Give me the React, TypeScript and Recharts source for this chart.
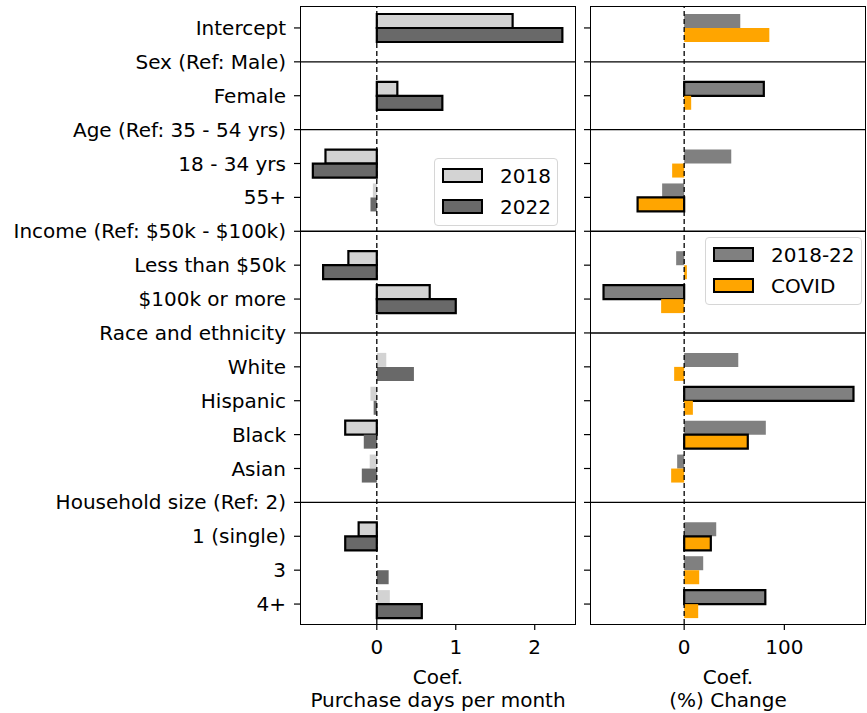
import React from 'react';
import { BarChart, Bar, XAxis, YAxis, Cell, ReferenceLine, Legend } from 'recharts';

const categories = [
  'Intercept',
  'Sex (Ref: Male)',
  'Female',
  'Age (Ref: 35 - 54 yrs)',
  '18 - 34 yrs',
  '55+',
  'Income (Ref: $50k - $100k)',
  'Less than $50k',
  '$100k or more',
  'Race and ethnicity',
  'White',
  'Hispanic',
  'Black',
  'Asian',
  'Household size (Ref: 2)',
  '1 (single)',
  '3',
  '4+',
];

const headerRows = [
  'Sex (Ref: Male)',
  'Age (Ref: 35 - 54 yrs)',
  'Income (Ref: $50k - $100k)',
  'Race and ethnicity',
  'Household size (Ref: 2)',
];

// purchase days per month coefficients
const coef2018 = [1.72, null, 0.26, null, -0.65, -0.05, null, -0.36, 0.67, null, 0.12, -0.08, -0.4, -0.09, null, -0.23, null, 0.165];
const coef2022 = [2.35, null, 0.83, null, -0.81, -0.08, null, -0.68, 1.0, null, 0.47, -0.04, -0.165, -0.19, null, -0.4, 0.15, 0.57];
const sig2018 = [1, 0, 1, 0, 1, 0, 0, 1, 1, 0, 0, 0, 1, 0, 0, 1, 0, 0];
const sig2022 = [1, 0, 1, 0, 1, 0, 0, 1, 1, 0, 0, 0, 0, 0, 0, 1, 0, 1];

// (%) change coefficients
const change1822 = [56, null, 79.5, null, 47, -22, null, -8, -80.5, null, 54, 169, 81.5, -7, null, 32, 19, 81];
const changeCovid = [85, null, 7, null, -12, -46.5, null, 2.7, -23, null, -10, 8.7, 63.5, -13, null, 26.6, 15, 14];
const sig1822 = [0, 0, 1, 0, 0, 0, 0, 0, 1, 0, 0, 1, 0, 0, 0, 0, 0, 1];
const sigCovid = [0, 0, 0, 0, 0, 1, 0, 0, 0, 0, 0, 0, 1, 0, 0, 1, 0, 0];

const leftTicks = [0, 1, 2];
const rightTicks = [0, 100];

const COLORS = {
  y2018: '#d3d3d3',
  y2022: '#696969',
  trend: '#808080',
  covid: '#ffa500',
};

const FONT = '"DejaVu Sans", sans-serif';
const FS = 20;

const leftData = categories.map((label, i) => ({ label, a: coef2018[i], b: coef2022[i] }));
const rightData = categories.map((label, i) => ({ label, a: change1822[i], b: changeCovid[i] }));

const axisLabel = (lines: string[]) => (props: any) => {
  const vb = props.viewBox;
  const cx = vb.x + vb.width / 2;
  return (
    <text x={cx} y={vb.y} textAnchor="middle" fontSize={FS} fill="#000" fontFamily={FONT}>
      <tspan x={cx} dy={60}>{lines[0]}</tspan>
      <tspan x={cx} dy={23}>{lines[1]}</tspan>
    </text>
  );
};

const legendBox = (items: { name: string; color: string }[], width: number) => () => (
  <div
    style={{
      width,
      height: 68,
      boxSizing: 'border-box',
      border: '1px solid #d6d6d6',
      borderRadius: 4,
      background: 'rgba(255,255,255,0.85)',
      padding: '8px 0 0 7px',
      fontFamily: FONT,
      fontSize: FS,
    }}
  >
    {items.map((it) => (
      <div key={it.name} style={{ display: 'flex', alignItems: 'center', height: 31 }}>
        <span
          style={{
            width: 41,
            height: 15,
            boxSizing: 'border-box',
            border: '2px solid #000',
            background: it.color,
            marginRight: 17,
            marginTop: -14,
          }}
        />
        <span style={{ marginTop: -14 }}>{it.name}</span>
      </div>
    ))}
  </div>
);

const PLOT_TOP = 7;
const PLOT_BOTTOM = 624;
const HEIGHT = 713;

function Frame({ left, width }: { left: number; width: number }) {
  return (
    <div
      style={{
        position: 'absolute',
        left: left - 0.6,
        top: PLOT_TOP - 0.6,
        width: width + 1.2,
        height: PLOT_BOTTOM - PLOT_TOP + 1.2,
        border: '1.3px solid #000',
        boxSizing: 'border-box',
        pointerEvents: 'none',
      }}
    />
  );
}

export default function App() {
  return (
    <div style={{ position: 'absolute', left: 0, top: 0, width: 867, height: HEIGHT, fontFamily: FONT, background: '#fff' }}>
      <div style={{ position: 'absolute', left: 0, top: 0 }}>
        <BarChart
          width={580}
          height={HEIGHT}
          data={leftData}
          layout="vertical"
          barSize={14}
          barGap={0}
          margin={{ top: PLOT_TOP, right: 5, bottom: HEIGHT - PLOT_BOTTOM - 40, left: 0 }}
        >
          <XAxis
            type="number"
            domain={[-0.96, 2.51]}
            allowDataOverflow
            ticks={leftTicks}
            height={40}
            axisLine={false}
            tickSize={6}
            tickMargin={10}
            tickLine={{ stroke: '#000', strokeWidth: 1.2 }}
            tick={{ fontSize: FS, fill: '#000' }}
            label={axisLabel(['Coef.', 'Purchase days per month'])}
          />
          <YAxis
            type="category"
            dataKey="label"
            width={301}
            interval={0}
            padding={{ top: 4, bottom: 3 }}
            axisLine={false}
            tickSize={7}
            tickMargin={8}
            tickLine={{ stroke: '#000', strokeWidth: 1.2 }}
            tick={{ fontSize: FS, fill: '#000' }}
          />
          {headerRows.map((h) => (
            <ReferenceLine key={h} y={h} stroke="#000" strokeWidth={1.4} />
          ))}
          <Bar dataKey="a" name="2018" fill={COLORS.y2018} isAnimationActive={false}>
            {leftData.map((d, i) => (
              <Cell key={d.label} stroke={sig2018[i] ? '#000' : 'none'} strokeWidth={2.2} />
            ))}
          </Bar>
          <Bar dataKey="b" name="2022" fill={COLORS.y2022} isAnimationActive={false}>
            {leftData.map((d, i) => (
              <Cell key={d.label} stroke={sig2022[i] ? '#000' : 'none'} strokeWidth={2.2} />
            ))}
          </Bar>
          <ReferenceLine x={0} stroke="#000" strokeWidth={1.3} strokeDasharray="5 3" />
          <Legend
            layout="horizontal"
            verticalAlign="middle"
            align="center"
            wrapperStyle={{ left: 434, top: 158, width: 124 }}
            content={legendBox(
              [
                { name: '2018', color: COLORS.y2018 },
                { name: '2022', color: COLORS.y2022 },
              ],
              124,
            )}
          />
        </BarChart>
        <Frame left={301} width={274} />
      </div>

      <div style={{ position: 'absolute', left: 580, top: 0, width: 287, height: HEIGHT }}>
        <BarChart
          width={287}
          height={HEIGHT}
          data={rightData}
          layout="vertical"
          barSize={14}
          barGap={0}
          margin={{ top: PLOT_TOP, right: 2, bottom: HEIGHT - PLOT_BOTTOM - 40, left: 0 }}
        >
          <XAxis
            type="number"
            domain={[-93, 180.5]}
            allowDataOverflow
            ticks={rightTicks}
            height={40}
            axisLine={false}
            tickSize={6}
            tickMargin={10}
            tickLine={{ stroke: '#000', strokeWidth: 1.2 }}
            tick={{ fontSize: FS, fill: '#000' }}
            label={axisLabel(['Coef.', '(%) Change'])}
          />
          <YAxis
            type="category"
            dataKey="label"
            width={11}
            interval={0}
            padding={{ top: 4, bottom: 3 }}
            axisLine={false}
            tickSize={7}
            tickFormatter={() => ''}
            tickLine={{ stroke: '#000', strokeWidth: 1.2 }}
          />
          {headerRows.map((h) => (
            <ReferenceLine key={h} y={h} stroke="#000" strokeWidth={1.4} />
          ))}
          <Bar dataKey="a" name="2018-22" fill={COLORS.trend} isAnimationActive={false}>
            {rightData.map((d, i) => (
              <Cell key={d.label} stroke={sig1822[i] ? '#000' : 'none'} strokeWidth={2.2} />
            ))}
          </Bar>
          <Bar dataKey="b" name="COVID" fill={COLORS.covid} isAnimationActive={false}>
            {rightData.map((d, i) => (
              <Cell key={d.label} stroke={sigCovid[i] ? '#000' : 'none'} strokeWidth={2.2} />
            ))}
          </Bar>
          <ReferenceLine x={0} stroke="#000" strokeWidth={1.3} strokeDasharray="5 3" />
          <Legend
            layout="horizontal"
            verticalAlign="middle"
            align="center"
            wrapperStyle={{ left: 125, top: 237, width: 157 }}
            content={legendBox(
              [
                { name: '2018-22', color: COLORS.trend },
                { name: 'COVID', color: COLORS.covid },
              ],
              157,
            )}
          />
        </BarChart>
        <Frame left={11} width={274} />
      </div>
    </div>
  );
}
